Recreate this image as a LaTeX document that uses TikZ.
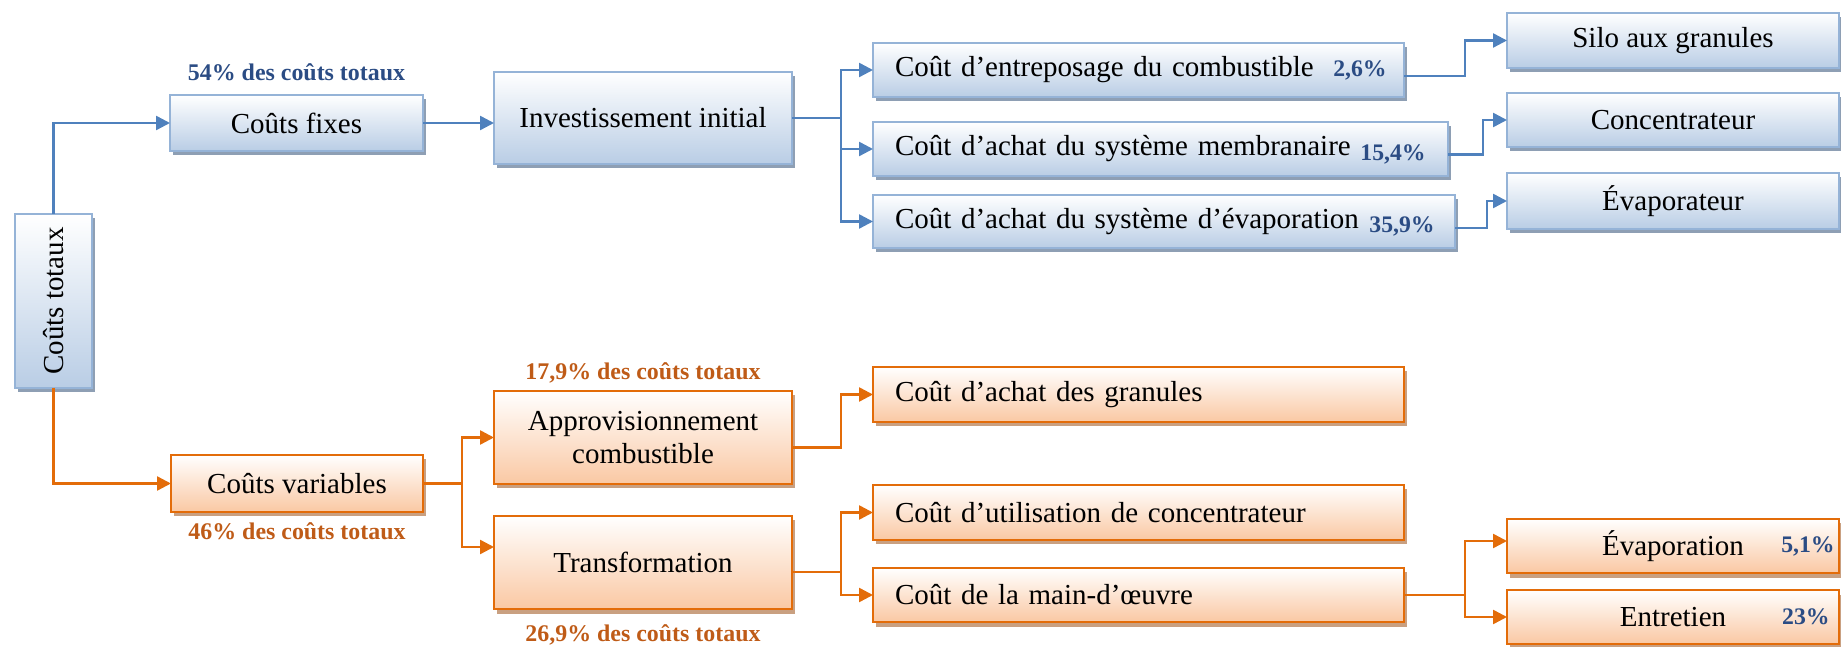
\documentclass[tikz,border=0pt]{standalone}
\usepackage{fontspec}
\setmainfont{Liberation Serif}
\usetikzlibrary{positioning, shadows, arrows.meta}

\definecolor{lineblue}{HTML}{4F81BD}
\definecolor{edgeblue}{HTML}{95B3D7}
\definecolor{fillblue}{HTML}{B9CDE5}
\definecolor{shadeblue}{HTML}{8E9FB4}
\definecolor{textblue}{HTML}{2B4C84}
\definecolor{lineorange}{HTML}{E36C09}
\definecolor{fillorange}{HTML}{FAC8A3}
\definecolor{shadeorange}{HTML}{C9A081}
\definecolor{textorange}{HTML}{BF5B17}

\newcommand{\boxfont}{\fontsize{16.5}{19}\selectfont}
\newcommand{\sharefont}{\bfseries\fontsize{13.6}{16}\selectfont}
\newcommand{\pctfont}{\bfseries\fontsize{13.5}{15}\selectfont}

\begin{document}
\begin{tikzpicture}[>={Triangle[length=0.28cm, width=0.28cm]},
    bluebox/.style={draw=edgeblue, line width=1.5pt, top color=white, bottom color=fillblue, drop shadow={shadow xshift=0.06cm, shadow yshift=-0.09cm, fill=shadeblue, opacity=1}, font=\boxfont, inner sep=0pt, outer sep=0pt},
    orangebox/.style={draw=lineorange, line width=1.5pt, top color=white, bottom color=fillorange, drop shadow={shadow xshift=0.06cm, shadow yshift=-0.09cm, fill=shadeorange, opacity=1}, font=\boxfont, inner sep=0pt, outer sep=0pt},
    leftbox/.style={align=left, inner xsep=0.44cm, text width=#1},
    share/.style={font=\sharefont, inner sep=0pt},
    pct/.style={font=\pctfont, text=textblue},
    blueline/.style={line width=1.4pt, lineblue, ->},
    orangeline/.style={line width=1.4pt, lineorange, ->}]
  \useasboundingbox (0,0) rectangle (36.82,-12.94);

  % fixed costs
  \node [bluebox, minimum width=1.54cm, minimum height=3.48cm] (tot) at (1.07,-6.02) {\rotatebox{90}{Coûts totaux}};
  \node [bluebox, minimum width=5.06cm, minimum height=1.12cm, right=1.56cm of tot, yshift=3.56cm] (fixes) {Coûts fixes};
  \node [share, text=textblue, above=0.27cm of fixes] (fixshare) {54\% des coûts totaux};
  \node [bluebox, minimum width=5.96cm, minimum height=1.84cm, right=1.42cm of fixes, yshift=0.1cm] (invest) {Investissement initial};

  \node [bluebox, leftbox=9.74cm, minimum height=1.08cm, right=1.62cm of invest, yshift=0.96cm,
    label={[pct, anchor=east, inner sep=0.34cm]east:2,6\%}] (stock) {Coût d’entreposage du combustible};
  \node [bluebox, leftbox=10.62cm, minimum height=1.08cm, below=0.5cm of stock.south west, anchor=north west,
    label={[pct, anchor=east, inner sep=0.44cm, yshift=-0.1cm]east:15,4\%}] (membr) {Coût d’achat du système membranaire};
  \node [bluebox, leftbox=10.76cm, minimum height=1.06cm, below=0.38cm of membr.south west, anchor=north west,
    label={[pct, anchor=east, inner sep=0.4cm, yshift=-0.1cm]east:35,9\%}] (evapsys) {Coût d’achat du système d’évaporation};

  \node [bluebox, minimum width=6.64cm, minimum height=1.1cm, right=2.06cm of stock, yshift=0.59cm] (silo) {Silo aux granules};
  \node [bluebox, minimum width=6.64cm, minimum height=1.08cm, below=0.5cm of silo] (concen) {Concentrateur};
  \node [bluebox, minimum width=6.64cm, minimum height=1.12cm, below=0.52cm of concen] (evapor) {Évaporateur};

  % variable costs
  \node [orangebox, minimum width=5.04cm, minimum height=1.14cm, right=1.58cm of tot, yshift=-3.65cm] (var) {Coûts variables};
  \node [share, text=textorange, below=0.2cm of var] (varshare) {46\% des coûts totaux};
  \node [orangebox, minimum width=5.96cm, minimum height=1.86cm, align=center, right=1.42cm of var, yshift=0.92cm] (appro) {Approvisionnement\\combustible};
  \node [share, text=textorange, above=0.15cm of appro] (approshare) {17,9\% des coûts totaux};
  \node [orangebox, minimum width=5.96cm, minimum height=1.86cm, below=0.64cm of appro] (transf) {Transformation};
  \node [share, text=textorange, below=0.3cm of transf] (transshare) {26,9\% des coûts totaux};

  \node [orangebox, leftbox=9.74cm, minimum height=1.1cm, right=1.62cm of appro, yshift=0.86cm] (granul) {Coût d’achat des granules};
  \node [orangebox, leftbox=9.74cm, minimum height=1.1cm, right=1.62cm of transf, yshift=1.0cm] (util) {Coût d’utilisation de concentrateur};
  \node [orangebox, leftbox=9.74cm, minimum height=1.08cm, below=0.56cm of util] (moeuvre) {Coût de la main-d’œuvre};

  \node [orangebox, minimum width=6.64cm, minimum height=1.08cm, right=2.06cm of moeuvre, yshift=0.98cm,
    label={[pct, anchor=east, inner sep=0.08cm]east:5,1\%}] (evap) {Évaporation};
  \node [orangebox, minimum width=6.64cm, minimum height=1.08cm, below=0.34cm of evap,
    label={[pct, anchor=east, inner sep=0.18cm]east:23\%}] (entret) {Entretien};

  % connectors
  \draw [blueline] (tot.north) |- (fixes.west);
  \draw [blueline] (fixes.east) -- (fixes.east -| invest.west);
  \coordinate [right=0.98cm of invest] (invsplit);
  \draw [blueline] (invest.east) -- (invsplit) |- (stock.west);
  \draw [blueline] (invsplit) |- (membr.west);
  \draw [blueline] (invsplit) |- (evapsys.west);
  \draw [blueline] ([yshift=-0.12cm] stock.east) -- ++(1.22,0) |- (silo.west);
  \draw [blueline] ([yshift=-0.11cm] membr.east) -- ++(0.7,0) |- (concen.west);
  \draw [blueline] ([yshift=-0.13cm] evapsys.east) -- ++(0.64,0) |- (evapor.west);

  \draw [orangeline] (tot.south) |- (var.west);
  \coordinate [right=0.78cm of var] (varsplit);
  \draw [orangeline] (var.east) -- (varsplit) |- (appro.west);
  \draw [orangeline] (varsplit) |- ([yshift=0.31cm] transf.west);
  \draw [orangeline] ([yshift=-0.2cm] appro.east) -- ++(0.98,0) |- (granul.west);
  \coordinate [right=0.98cm of transf, yshift=-0.19cm] (transsplit);
  \draw [orangeline] ([yshift=-0.19cm] transf.east) -- (transsplit) |- (util.west);
  \draw [orangeline] (transsplit) |- (moeuvre.west);
  \coordinate [right=1.22cm of moeuvre] (msplit);
  \draw [orangeline] (moeuvre.east) -- (msplit) |- ([yshift=0.1cm] evap.west);
  \draw [orangeline] (msplit) |- (entret.west);
\end{tikzpicture}
\end{document}
